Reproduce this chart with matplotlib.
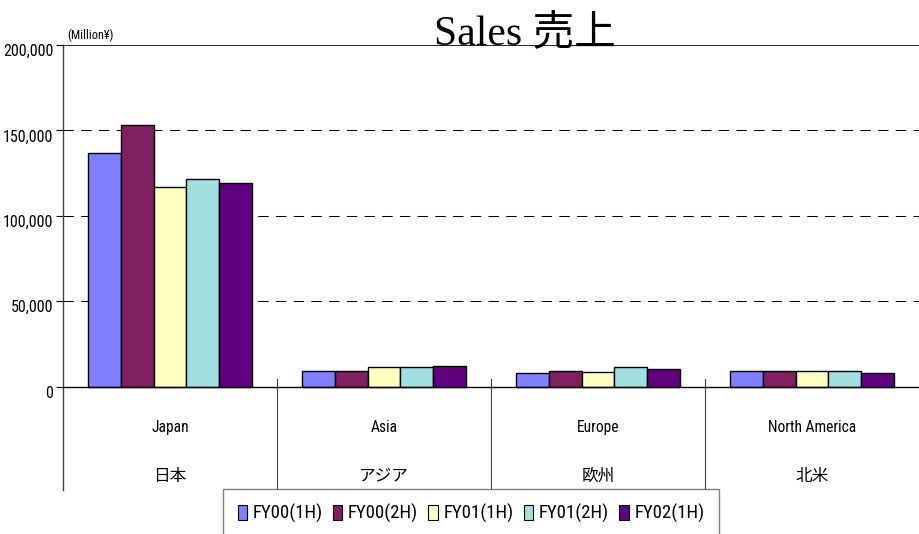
import matplotlib
matplotlib.use("Agg")
import matplotlib.pyplot as plt
import matplotlib.transforms as mtrans
from matplotlib import font_manager as fm
from matplotlib.patches import Patch
import numpy as np


def first_font(names):
    for nm in names:
        try:
            fm.findfont(fm.FontProperties(family=nm), fallback_to_default=False)
            return nm
        except ValueError:
            pass
    return 'DejaVu Sans'


narrow = first_font(['Liberation Sans Narrow', 'Arial Narrow', 'Roboto Condensed',
                     'Archivo Narrow', 'Asap Condensed', 'Liberation Sans'])
plt.rcParams['font.family'] = [narrow, 'Noto Sans CJK JP', 'DejaVu Sans']

# donnees (millions de yens)
regions_en = ['Japan', 'Asia', 'Europe', 'North America']
regions_ja = ['日本', 'アジア', '欧州', '北米']
series = ['FY00(1H)', 'FY00(2H)', 'FY01(1H)', 'FY01(2H)', 'FY02(1H)']
fy00_1h = [137000, 9000, 8200, 9000]
fy00_2h = [153000, 9000, 9400, 9000]
fy01_1h = [117000, 11500, 8800, 9000]
fy01_2h = [121500, 11500, 11700, 9000]
fy02_1h = [119500, 12000, 10500, 8000]
colors = ['#8080FF', '#802060', '#FFFFC0', '#A0E0E0', '#600080']
yticks = [0, 50000, 100000, 150000, 200000]

values = [fy00_1h, fy00_2h, fy01_1h, fy01_2h, fy02_1h]

fig = plt.figure(figsize=(9.19, 5.34), dpi=100)
ax = fig.add_axes([63 / 919, 1 - 490 / 534, 1 - 63 / 919, (490 - 45) / 534])

n = len(regions_en)
x = np.arange(n) + 0.5
w = 0.154
for i, v in enumerate(values):
    ax.bar(x + (i - 2) * w, v, w, color=colors[i], edgecolor='black',
           linewidth=1.0, zorder=3)

ax.set_xlim(0, n)
ax.set_ylim(-60500, 200000)

# grille pointillee
for yv in yticks[1:-1]:
    ax.axhline(yv, color='black', linewidth=0.75, linestyle=(0, (10, 7)), zorder=1)
ax.axhline(0, color='black', linewidth=1.0, zorder=4)
ax.axhline(200000, color='black', linewidth=1.2, zorder=4)

# separateurs des categories
for k in range(1, n):
    ax.plot([k, k], [4500, -60500], color='#404040', linewidth=0.8, zorder=2)

for s in ['top', 'right', 'bottom']:
    ax.spines[s].set_visible(False)
ax.spines['left'].set_color('#404040')
ax.spines['left'].set_linewidth(1.0)

ax.set_xticks([])
ax.set_yticks(yticks)
ax.set_yticklabels(['{:,}'.format(t) for t in yticks], fontsize=11.5)
ax.tick_params(axis='y', length=5, width=0.8, pad=2)
off = mtrans.ScaledTranslation(0, -5 / 100, fig.dpi_scale_trans)
for lab in ax.get_yticklabels():
    lab.set_transform(lab.get_transform() + off)

for k in range(n):
    ax.text(x[k], -24000, regions_en[k], ha='center', va='center', fontsize=11.2)
    ax.text(x[k], -52500, regions_ja[k], ha='center', va='center', fontsize=12)

fig.text(67 / 919, 1 - 35 / 534, '(Million¥)', ha='left', va='center', fontsize=8.8)
fig.text(525 / 919, 1 - 44 / 534, 'Sales 売上', ha='center', va='baseline',
         fontsize=30, family=['Liberation Serif', 'Noto Sans CJK JP'])

handles = [Patch(facecolor=colors[i], edgecolor='black', linewidth=0.8) for i in range(5)]
leg = fig.legend(handles, series, loc='upper center', bbox_to_anchor=(471 / 919, 1 - 489 / 534),
                 ncol=5, fontsize=13.5, frameon=True, fancybox=False, borderaxespad=0,
                 handlelength=0.5, handleheight=0.8, handletextpad=0.3, columnspacing=0.55,
                 borderpad=0.8)
leg.get_frame().set_edgecolor('#606060')
leg.get_frame().set_linewidth(1.0)

fig.savefig('out.png', dpi=100)
